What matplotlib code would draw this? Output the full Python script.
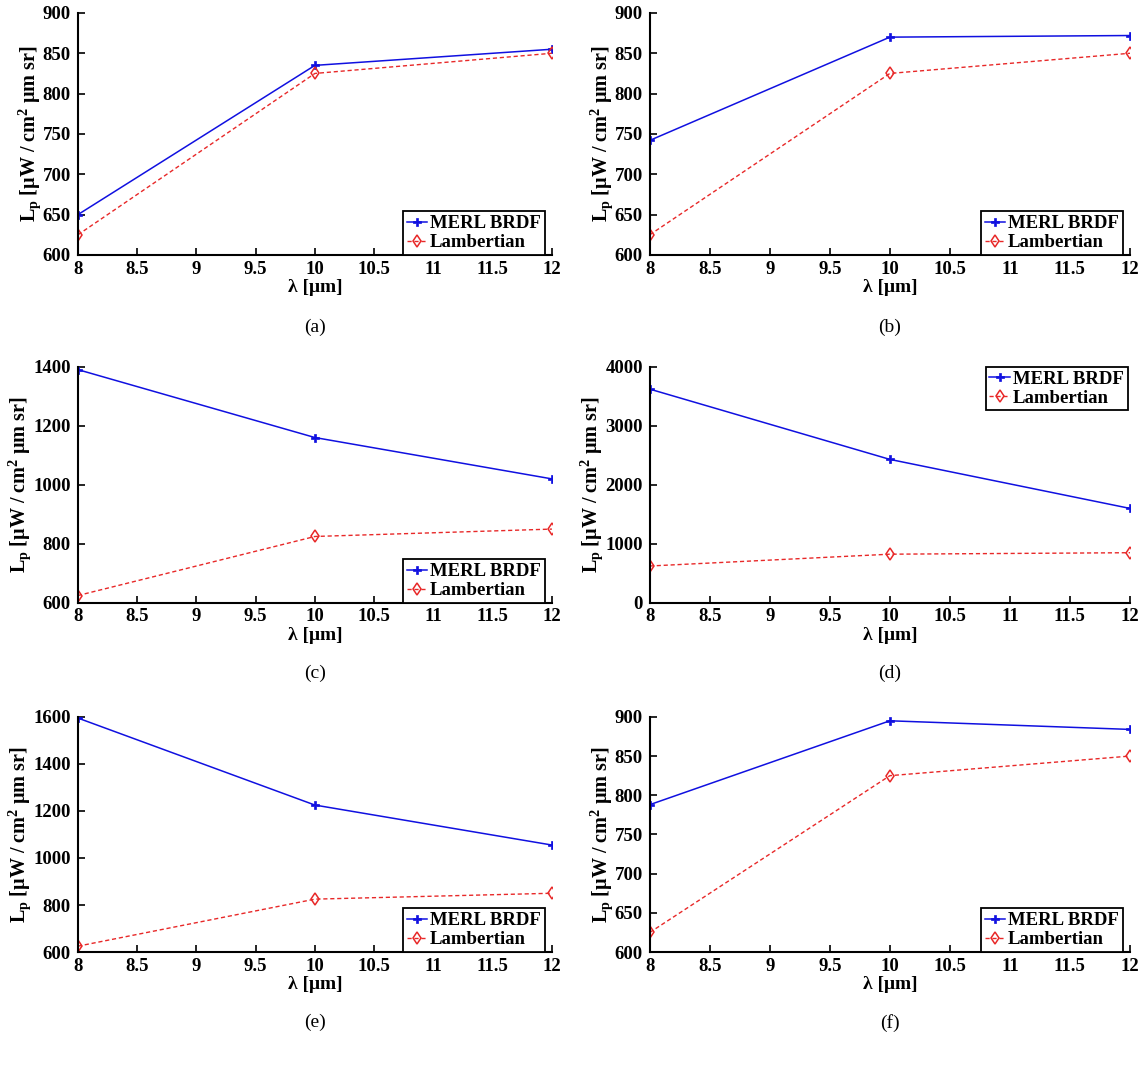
import matplotlib
matplotlib.use('Agg')
import matplotlib.pyplot as plt

plt.rcParams['font.family'] = ['Liberation Serif', 'DejaVu Serif']
plt.rcParams['mathtext.fontset'] = 'custom'
plt.rcParams['mathtext.rm'] = 'Liberation Serif:bold'
plt.rcParams['mathtext.default'] = 'rm'

wavelength = [8, 10, 12]
lambertian = [625, 825, 850]
merl_a = [650, 835, 855]
merl_b = [742, 870, 872]
merl_c = [1390, 1160, 1020]
merl_d = [3620, 2430, 1600]
merl_e = [1595, 1225, 1055]
merl_f = [788, 895, 884]

captions = ['(a)', '(b)', '(c)', '(d)', '(e)', '(f)']
merl_all = [merl_a, merl_b, merl_c, merl_d, merl_e, merl_f]
ylims = [(600, 900, 50), (600, 900, 50), (600, 1400, 200),
         (0, 4000, 1000), (600, 1600, 200), (600, 900, 50)]
legend_loc = ['lower right', 'lower right', 'lower right',
              'upper right', 'lower right', 'lower right']
xticks = [8, 8.5, 9, 9.5, 10, 10.5, 11, 11.5, 12]

fig = plt.figure(figsize=(11.46, 10.69), dpi=100)

lefts = [0.068, 0.567]
bottoms = [0.7615, 0.436, 0.1094]
heights = [0.2264, 0.221, 0.22]
widths = [0.4136, 0.419]

for i in range(6):
    row, col = divmod(i, 2)
    ax = fig.add_axes([lefts[col], bottoms[row], widths[col], heights[row]])
    ax.plot(wavelength, merl_all[i], color='#1010e0', lw=1.1, marker='P',
            ms=6, mew=0.5, label='MERL BRDF')
    ax.plot(wavelength, lambertian, color='#e82828', lw=1.0, ls='--',
            dashes=(3, 2), marker='d', ms=6, mfc='none', mew=1.1,
            label='Lambertian')
    lo, hi, step = ylims[i]
    ax.set_ylim(lo, hi)
    ax.set_yticks(range(lo, hi + 1, step))
    ax.set_xlim(8, 12)
    ax.set_xticks(xticks)
    ax.set_xticklabels(['%g' % t for t in xticks])
    ax.spines['top'].set_visible(False)
    ax.spines['right'].set_visible(False)
    ax.spines['left'].set_linewidth(1.5)
    ax.spines['bottom'].set_linewidth(1.5)
    ax.tick_params(direction='in', length=5, width=1.2, labelsize=13.5)
    ax.tick_params(axis='x', pad=4)
    ax.tick_params(axis='y', pad=5)
    for lab in ax.get_xticklabels() + ax.get_yticklabels():
        lab.set_fontweight('bold')
    ax.set_xlabel('λ [μm]', fontsize=14, fontweight='bold', labelpad=1)
    ax.set_ylabel('L$_p$ [μW / cm$^2$ μm sr]', fontsize=14.5,
                  fontweight='bold', labelpad=0)
    if legend_loc[i] == 'lower right':
        anchor = (0.985, 0.0)
    else:
        anchor = (0.995, 1.0)
    leg = ax.legend(loc=legend_loc[i], bbox_to_anchor=anchor, fancybox=False,
                    framealpha=1, edgecolor='black', handlelength=1.1,
                    handletextpad=0.15, borderpad=0.2, labelspacing=0.1,
                    borderaxespad=0.0, prop={'weight': 'bold', 'size': 13.5})
    leg.get_frame().set_linewidth(1.3)
    ax.text(0.5, -0.3, captions[i], transform=ax.transAxes, ha='center',
            va='center', fontsize=14)

fig.savefig('out.png', dpi=100)
